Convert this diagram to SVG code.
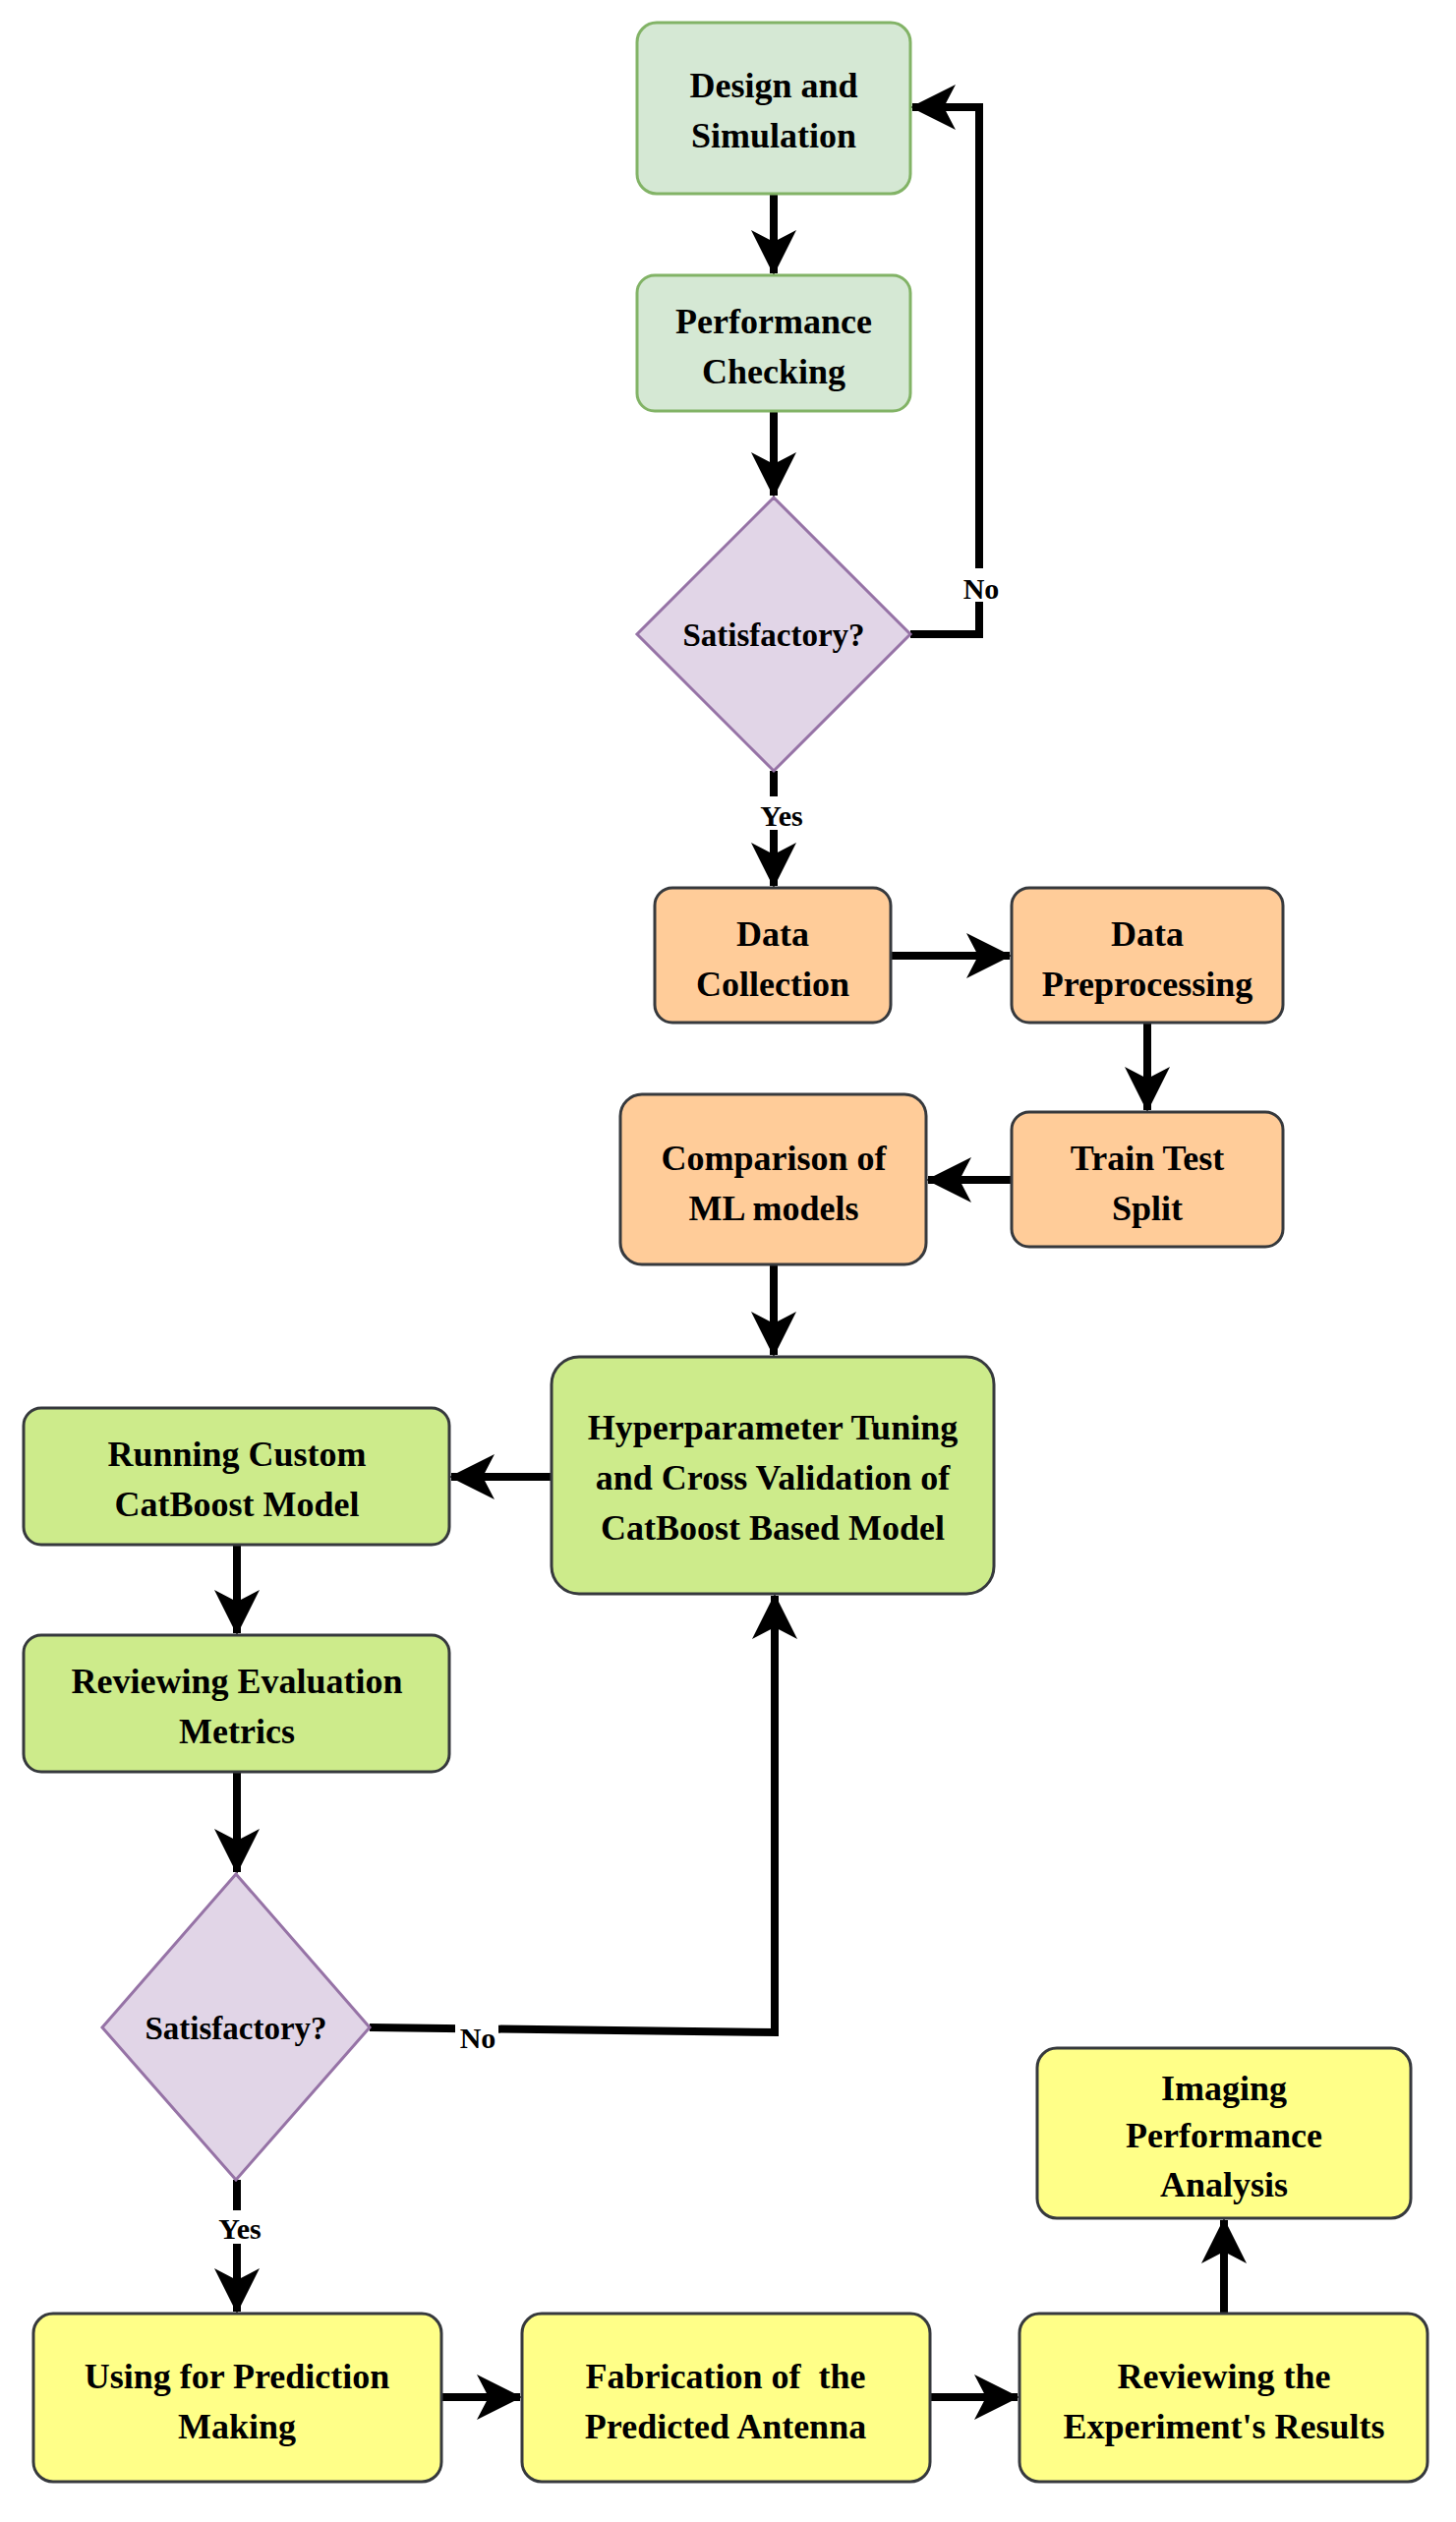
<svg xmlns="http://www.w3.org/2000/svg" width="1481" height="2565" viewBox="0 0 1481 2565">
<style>
.t{font-family:"Liberation Serif","Times New Roman",serif;font-weight:bold;font-size:36px;fill:#000;text-anchor:middle}
.s{font-size:33px}
.l{font-size:30px}
.g{fill:#d5e8d4;stroke:#82b366;stroke-width:3}
.o{fill:#ffcc99;stroke:#36393d;stroke-width:3}
.m{fill:#cdeb8b;stroke:#36393d;stroke-width:3}
.y{fill:#ffff88;stroke:#36393d;stroke-width:3}
.d{fill:#e1d5e7;stroke:#9673a6;stroke-width:3}
.c{fill:none;stroke:#000;stroke-width:8;marker-end:url(#a)}
</style>
<defs>
<marker id="a" viewBox="0 0 46 46" refX="44" refY="23" markerWidth="46" markerHeight="46" markerUnits="userSpaceOnUse" orient="auto">
<path d="M0,0 L46,23 L0,46 L12,23 Z" fill="#000"/>
</marker>
</defs>
<g id="connectors">
<path class="c" d="M787,197 V278"/>
<path class="c" d="M787,418 V504"/>
<path class="c" d="M926,645 H996 V109 H928"/>
<path class="c" d="M787,784 V901"/>
<path class="c" d="M906,972 H1027"/>
<path class="c" d="M1167,1040 V1129"/>
<path class="c" d="M1029,1200 H944"/>
<path class="c" d="M787,1286 V1378"/>
<path class="c" d="M561,1502 H459"/>
<path class="c" d="M241,1571 V1661"/>
<path class="c" d="M241,1802 V1904"/>
<path class="c" d="M376,2062 L788,2067 V1623"/>
<path class="c" d="M241,2217 V2351"/>
<path class="c" d="M449,2438 H529"/>
<path class="c" d="M946,2438 H1035"/>
<path class="c" d="M1245,2353 V2258"/>
<rect x="975" y="578" width="44" height="34" fill="#fff"/>
<text class="t l" x="998" y="609">No</text>
<rect x="765" y="810" width="48" height="34" fill="#fff"/>
<text class="t l" x="795" y="840">Yes</text>
<rect x="463" y="2054" width="44" height="34" fill="#fff"/>
<text class="t l" x="486" y="2083">No</text>
<rect x="218" y="2248" width="50" height="34" fill="#fff"/>
<text class="t l" x="244" y="2277">Yes</text>
</g>
<g id="design"><rect class="g" x="648" y="23" width="278" height="174" rx="20"/><text class="t" x="787" y="99">Design and</text><text class="t" x="787" y="150">Simulation</text></g>
<g id="perf"><rect class="g" x="648" y="280" width="278" height="138" rx="18"/><text class="t" x="787" y="339">Performance</text><text class="t" x="787" y="390">Checking</text></g>
<g id="sat1"><path class="d" d="M787,506 L926,645 L787,784 L648,645 Z"/><text class="t s" x="787" y="657">Satisfactory?</text></g>
<g id="collect"><rect class="o" x="666" y="903" width="240" height="137" rx="18"/><text class="t" x="786" y="962">Data</text><text class="t" x="786" y="1013">Collection</text></g>
<g id="prep"><rect class="o" x="1029" y="903" width="276" height="137" rx="18"/><text class="t" x="1167" y="962">Data</text><text class="t" x="1167" y="1013">Preprocessing</text></g>
<g id="split"><rect class="o" x="1029" y="1131" width="276" height="137" rx="18"/><text class="t" x="1167" y="1190">Train Test</text><text class="t" x="1167" y="1241">Split</text></g>
<g id="compare"><rect class="o" x="631" y="1113" width="311" height="173" rx="22"/><text class="t" x="787" y="1190">Comparison of</text><text class="t" x="787" y="1241">ML models</text></g>
<g id="hyper"><rect class="m" x="561" y="1380" width="450" height="241" rx="28"/><text class="t" x="786" y="1464">Hyperparameter Tuning</text><text class="t" x="786" y="1515">and Cross Validation of</text><text class="t" x="786" y="1566">CatBoost Based Model</text></g>
<g id="running"><rect class="m" x="24" y="1432" width="433" height="139" rx="18"/><text class="t" x="241" y="1491">Running Custom</text><text class="t" x="241" y="1542">CatBoost Model</text></g>
<g id="review"><rect class="m" x="24" y="1663" width="433" height="139" rx="18"/><text class="t" x="241" y="1722">Reviewing Evaluation</text><text class="t" x="241" y="1773">Metrics</text></g>
<g id="sat2"><path class="d" d="M240,1906 L376,2062 L240,2217 L104,2062 Z"/><text class="t s" x="240" y="2074">Satisfactory?</text></g>
<g id="using"><rect class="y" x="34" y="2353" width="415" height="171" rx="20"/><text class="t" x="241" y="2429">Using for Prediction</text><text class="t" x="241" y="2480">Making</text></g>
<g id="fab"><rect class="y" x="531" y="2353" width="415" height="171" rx="20"/><text class="t" x="738" y="2429" xml:space="preserve">Fabrication of  the</text><text class="t" x="738" y="2480">Predicted Antenna</text></g>
<g id="exp"><rect class="y" x="1037" y="2353" width="415" height="171" rx="20"/><text class="t" x="1245" y="2429">Reviewing the</text><text class="t" x="1245" y="2480">Experiment's Results</text></g>
<g id="imaging"><rect class="y" x="1055" y="2083" width="380" height="173" rx="20"/><text class="t" x="1245" y="2136">Imaging</text><text class="t" x="1245" y="2184">Performance</text><text class="t" x="1245" y="2234">Analysis</text></g>
</svg>
